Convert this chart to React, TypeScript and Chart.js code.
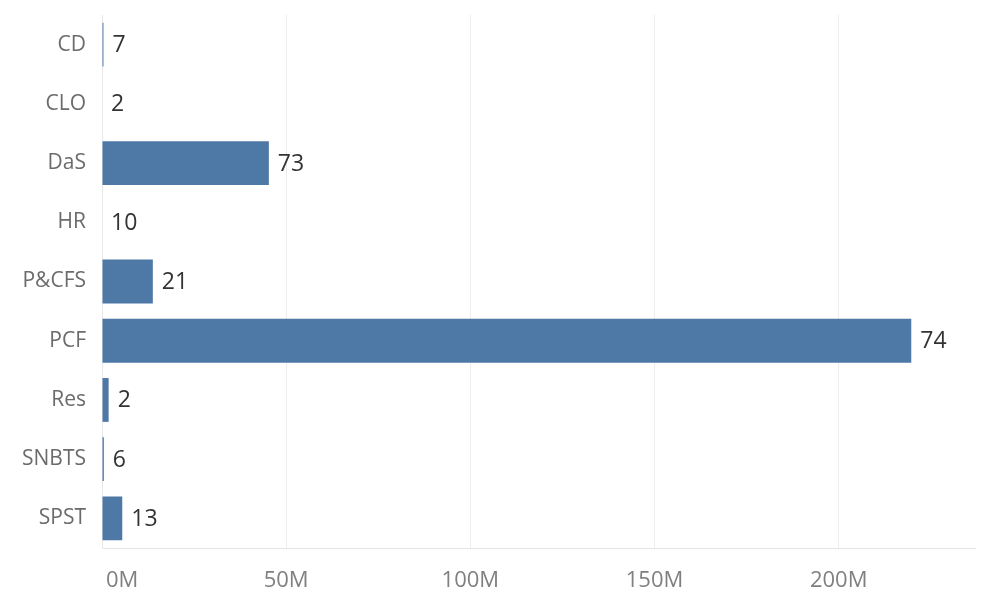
import React, { useEffect, useRef } from "react";
import { Chart, registerables } from "chart.js";

Chart.register(...registerables);

const categories = ["CD", "CLO", "DaS", "HR", "P&CFS", "PCF", "Res", "SNBTS", "SPST"];
// bar length in millions
const amounts = [0.4, 0, 45.3, 0, 13.8, 219.7, 1.8, 0.5, 5.5];
// numbers printed at the end of each bar
const barLabels = ["7", "2", "73", "10", "21", "74", "2", "6", "13"];
const xTickValues = [0, 50, 100, 150, 200];

const FONT = "'Open Sans', 'Noto Sans', sans-serif";

const valueLabelPlugin = {
  id: "valueLabels",
  afterDatasetsDraw(chart: any) {
    const ctx = chart.ctx;
    const meta = chart.getDatasetMeta(0);
    ctx.save();
    ctx.font = `23px ${FONT}`;
    ctx.fillStyle = "#333333";
    ctx.textAlign = "left";
    ctx.textBaseline = "middle";
    meta.data.forEach((bar: any, i: number) => {
      ctx.fillText(barLabels[i], bar.x + 9, bar.y + 1);
    });
    ctx.restore();
  },
};

const xTickPlugin = {
  id: "xTickLabels",
  afterDraw(chart: any) {
    const ctx = chart.ctx;
    const scale = chart.scales.x;
    ctx.save();
    ctx.font = `22px ${FONT}`;
    ctx.fillStyle = "#808080";
    ctx.textBaseline = "middle";
    xTickValues.forEach((v) => {
      const x = scale.getPixelForValue(v);
      if (v === 0) {
        ctx.textAlign = "left";
        ctx.fillText(v + "M", x + 4, 581);
      } else {
        ctx.textAlign = "center";
        ctx.fillText(v + "M", x, 581);
      }
    });
    ctx.restore();
  },
};

export default function App() {
  const ref = useRef<HTMLCanvasElement>(null);
  useEffect(() => {
    document.body.style.margin = "0";
    const chart = new Chart(ref.current!, {
      type: "bar",
      data: {
        labels: categories,
        datasets: [
          {
            data: amounts,
            backgroundColor: "#4e79a7",
            borderWidth: 0,
            categoryPercentage: 1,
            barPercentage: 0.74,
          },
        ],
      },
      options: {
        indexAxis: "y",
        responsive: false,
        animation: false,
        layout: { padding: { top: 15, right: 12, left: 0, bottom: 0 } },
        plugins: { legend: { display: false }, tooltip: { enabled: false } },
        scales: {
          x: {
            min: 0,
            max: 237,
            afterBuildTicks: (scale: any) => {
              scale.ticks = xTickValues.map((v) => ({ value: v }));
            },
            afterFit: (scale: any) => {
              scale.height = 47;
              scale.paddingLeft = 0;
              scale.paddingRight = 0;
            },
            ticks: { display: false },
            grid: { color: "#ededed", drawTicks: false, lineWidth: 1 },
            border: { color: "#e4e4e4", width: 1 },
          },
          y: {
            afterFit: (scale: any) => {
              scale.width = 102;
              scale.paddingTop = 0;
              scale.paddingBottom = 0;
            },
            ticks: {
              color: "#6b6b6b",
              font: { family: FONT, size: 21 },
              padding: 16,
            },
            grid: { display: false, drawTicks: false },
            border: { color: "#e8e8e8", width: 1 },
          },
        },
      },
      plugins: [valueLabelPlugin, xTickPlugin],
    });
    return () => chart.destroy();
  }, []);
  return (
    <div style={{ width: 987, height: 595 }}>
      <canvas ref={ref} width={987} height={595} />
    </div>
  );
}
